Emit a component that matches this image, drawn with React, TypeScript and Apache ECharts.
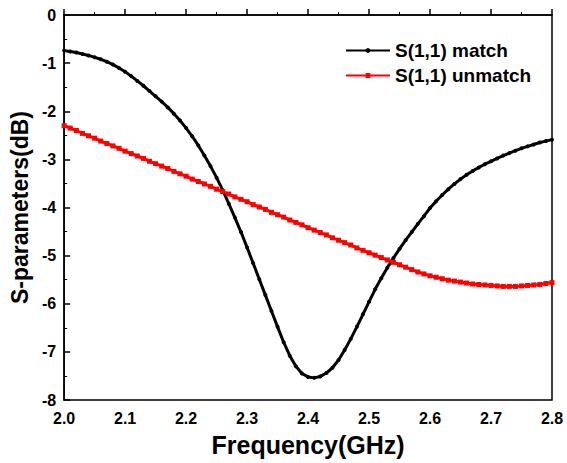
import React, { useEffect, useRef } from "react";
import * as echarts from "echarts";

const freqs: number[] = [
  2.0, 2.01, 2.02, 2.03, 2.04, 2.05, 2.06, 2.07, 2.08, 2.09,
  2.1, 2.11, 2.12, 2.13, 2.14, 2.15, 2.16, 2.17, 2.18, 2.19,
  2.2, 2.21, 2.22, 2.23, 2.24, 2.25, 2.26, 2.27, 2.28, 2.29,
  2.3, 2.31, 2.32, 2.33, 2.34, 2.35, 2.36, 2.37, 2.38, 2.39,
  2.4, 2.41, 2.42, 2.43, 2.44, 2.45, 2.46, 2.47, 2.48, 2.49,
  2.5, 2.51, 2.52, 2.53, 2.54, 2.55, 2.56, 2.57, 2.58, 2.59,
  2.6, 2.61, 2.62, 2.63, 2.64, 2.65, 2.66, 2.67, 2.68, 2.69,
  2.7, 2.71, 2.72, 2.73, 2.74, 2.75, 2.76, 2.77, 2.78, 2.79,
  2.8,
];

const matchValues: number[] = [
  -0.74, -0.76, -0.78, -0.81, -0.84, -0.88, -0.92, -0.97, -1.03, -1.1,
  -1.18, -1.27, -1.37, -1.47, -1.58, -1.69, -1.8, -1.92, -2.05, -2.19,
  -2.35, -2.52, -2.71, -2.92, -3.14, -3.38, -3.64, -3.92, -4.21, -4.51,
  -4.83, -5.16, -5.49, -5.82, -6.15, -6.48, -6.8, -7.08, -7.3, -7.45,
  -7.52, -7.54, -7.51, -7.44, -7.33, -7.17, -6.96, -6.73, -6.48, -6.22,
  -5.96, -5.7, -5.47, -5.25, -5.05, -4.86, -4.68, -4.51, -4.34, -4.18,
  -4.01, -3.87, -3.74, -3.62, -3.51, -3.41, -3.32, -3.24, -3.17, -3.1,
  -3.04, -2.98, -2.92, -2.87, -2.82, -2.77, -2.73, -2.69, -2.65, -2.62,
  -2.59,
];

const unmatchValues: number[] = [
  -2.3, -2.35, -2.4, -2.46, -2.51, -2.56, -2.62, -2.67, -2.72, -2.77,
  -2.83, -2.88, -2.93, -2.98, -3.04, -3.09, -3.14, -3.19, -3.25, -3.3,
  -3.35, -3.41, -3.46, -3.51, -3.56, -3.62, -3.67, -3.72, -3.78, -3.83,
  -3.88, -3.94, -3.99, -4.04, -4.1, -4.15, -4.2, -4.26, -4.31, -4.36,
  -4.42, -4.47, -4.52, -4.57, -4.63, -4.68, -4.73, -4.78, -4.84, -4.89,
  -4.94, -4.99, -5.04, -5.09, -5.14, -5.19, -5.24, -5.29, -5.34, -5.38,
  -5.42, -5.45, -5.48, -5.51, -5.53, -5.55, -5.57, -5.59, -5.6, -5.61,
  -5.62, -5.63, -5.64, -5.64, -5.64, -5.63, -5.62, -5.61, -5.6, -5.58,
  -5.56,
];

const seriesNames: string[] = ["S(1,1) match", "S(1,1) unmatch"];
const xAxisTitle = "Frequency(GHz)";
const yAxisTitle = "S-parameters(dB)";

const FONT = "'Liberation Sans', Arial, sans-serif";

export default function App() {
  const ref = useRef<HTMLDivElement>(null);
  useEffect(() => {
    if (!ref.current) return;
    const chart = echarts.init(ref.current, null, { renderer: "svg" });
    const labelStyle = {
      color: "#000",
      fontFamily: FONT,
      fontWeight: "bold" as const,
      fontSize: 16,
    };
    chart.setOption({
      animation: false,
      backgroundColor: "#fff",
      grid: {
        left: 62,
        right: 15,
        top: 15,
        bottom: 63,
        show: true,
        borderColor: "#000",
        borderWidth: 1.5,
        backgroundColor: "transparent",
      },
      legend: {
        orient: "vertical",
        left: 340,
        top: 36,
        itemWidth: 44,
        itemHeight: 6,
        itemGap: 6,
        textStyle: { ...labelStyle, fontSize: 19 },
        data: [
          { name: seriesNames[0] },
          { name: seriesNames[1] },
        ],
      },
      xAxis: {
        type: "value",
        min: 2.0,
        max: 2.8,
        interval: 0.1,
        name: xAxisTitle,
        nameLocation: "middle",
        nameGap: 32,
        nameTextStyle: { ...labelStyle, fontSize: 25 },
        axisLine: { show: true, lineStyle: { color: "#000", width: 1.5 } },
        axisTick: { show: true, inside: true, length: 6, lineStyle: { color: "#000", width: 1.5 } },
        minorTick: { show: true, splitNumber: 2, length: 3, lineStyle: { color: "#000", width: 1 } },
        axisLabel: {
          ...labelStyle,
          margin: 10,
          formatter: (v: number) => v.toFixed(1),
        },
        splitLine: { show: false },
      },
      yAxis: {
        type: "value",
        min: -8,
        max: 0,
        interval: 1,
        name: yAxisTitle,
        nameLocation: "middle",
        nameGap: 29,
        nameTextStyle: { ...labelStyle, fontSize: 23 },
        axisLine: { show: true, lineStyle: { color: "#000", width: 1.5 } },
        axisTick: { show: true, inside: true, length: 6, lineStyle: { color: "#000", width: 1.5 } },
        minorTick: { show: true, splitNumber: 2, length: 3, lineStyle: { color: "#000", width: 1 } },
        axisLabel: { ...labelStyle, margin: 8 },
        splitLine: { show: false },
      },
      series: [
        {
          name: seriesNames[0],
          type: "line",
          data: freqs.map((f, i) => [f, matchValues[i]]),
          symbol: "circle",
          symbolSize: 4,
          showSymbol: true,
          color: "#000",
          lineStyle: { color: "#000", width: 3 },
          itemStyle: { color: "#000" },
        },
        {
          name: seriesNames[1],
          type: "line",
          data: freqs.map((f, i) => [f, unmatchValues[i]]),
          symbol: "rect",
          symbolSize: 5,
          showSymbol: true,
          color: "#ff0000",
          lineStyle: { color: "#ff0000", width: 3 },
          itemStyle: { color: "#ff0000" },
        },
      ],
    });
    return () => chart.dispose();
  }, []);
  return (
    <div
      ref={ref}
      style={{ position: "fixed", left: 0, top: 0, width: 567, height: 463, background: "#fff" }}
    />
  );
}
